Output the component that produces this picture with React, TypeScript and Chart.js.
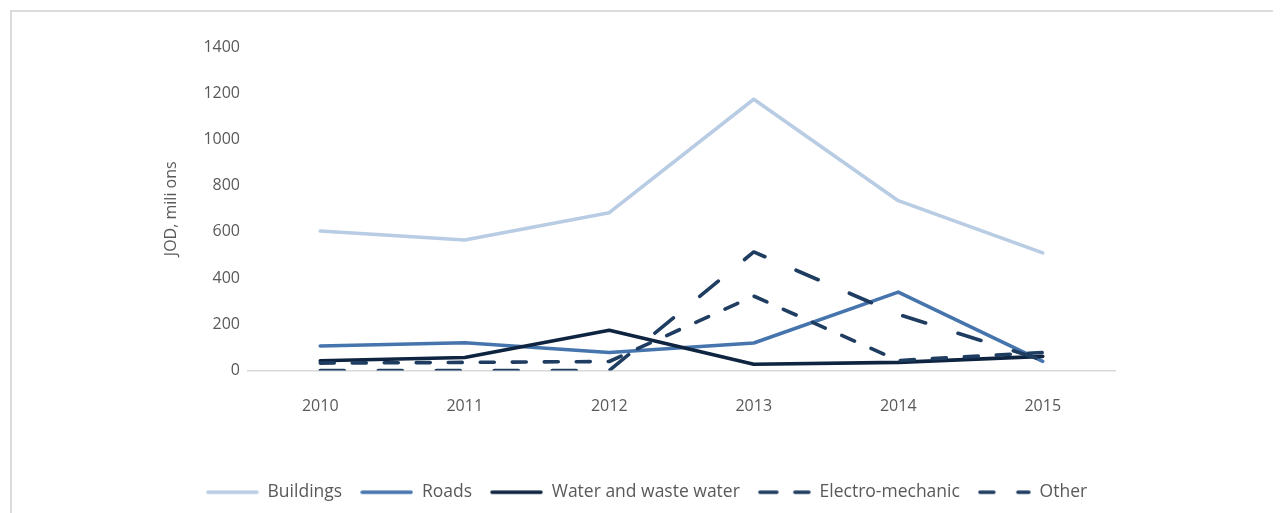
import React, { useEffect, useRef } from "react";
import { Chart, registerables } from "chart.js";

Chart.register(...registerables);

const years = ["2010", "2011", "2012", "2013", "2014", "2015"];
const buildings = [604, 565, 683, 1174, 735, 509];
const roads = [106, 120, 78, 119, 339, 40];
const water = [42, 56, 174, 27, 35, 61];
const electro = [32, 35, 39, 322, 43, 78];
const other = [0, 0, 0, 513, 243, 45];

const yTitle = "JOD, mili ons";
const FONT = '"Open Sans", sans-serif';
const TEXT = "#595959";

const SAMPLE_W = 53;

function makeSample(color: string, segments: number[][]) {
  const c = document.createElement("canvas");
  c.width = SAMPLE_W;
  c.height = 8;
  const ctx = c.getContext("2d")!;
  ctx.strokeStyle = color;
  ctx.lineWidth = 3.5;
  ctx.lineCap = "round";
  for (const [a, b] of segments) {
    ctx.beginPath();
    ctx.moveTo(a + 2, 4);
    ctx.lineTo(b - 2, 4);
    ctx.stroke();
  }
  return c;
}

export default function App() {
  const ref = useRef<HTMLCanvasElement | null>(null);

  useEffect(() => {
    document.documentElement.style.overflow = "hidden";
    const canvas = ref.current;
    if (!canvas) return;
    const common = {
      fill: false,
      pointRadius: 0,
      pointHoverRadius: 0,
      borderWidth: 3.6,
      tension: 0,
      borderCapStyle: "round" as const,
      borderJoinStyle: "round" as const,
    };
    const samples = [
      makeSample("#b8cce4", [[0, SAMPLE_W]]),
      makeSample("#4675ad", [[0, SAMPLE_W]]),
      makeSample("#0e2440", [[0, SAMPLE_W]]),
      makeSample("#1f3d60", [[0, 21], [35, SAMPLE_W]]),
      makeSample("#1f3d60", [[0, 18], [38, SAMPLE_W]]),
    ];
    const chart = new Chart(canvas, {
      type: "line",
      data: {
        labels: years,
        datasets: [
          { ...common, label: "Buildings", data: buildings, borderColor: "#b8cce4", backgroundColor: "#b8cce4", order: 5 },
          { ...common, label: "Roads", data: roads, borderColor: "#4675ad", backgroundColor: "#4675ad", order: 4 },
          { ...common, label: "Water and waste water", data: water, borderColor: "#0e2440", backgroundColor: "#0e2440", order: 3 },
          { ...common, label: "Electro-mechanic", data: electro, borderColor: "#1f3d60", backgroundColor: "#1f3d60", borderDash: [14, 18], order: 2 },
          { ...common, label: "Other", data: other, borderColor: "#1f3d60", backgroundColor: "#1f3d60", borderDash: [24, 34], order: 1 },
        ],
      },
      options: {
        animation: false,
        responsive: false,
        maintainAspectRatio: false,
        layout: { padding: { left: 170, right: 166, top: 39, bottom: 2 } },
        plugins: {
          tooltip: { enabled: false },
          legend: {
            position: "bottom",
            labels: {
              usePointStyle: true,
              pointStyleWidth: SAMPLE_W,
              padding: 18,
              color: TEXT,
              font: { family: FONT, size: 17.5 },
              generateLabels: (ch: any) =>
                Chart.defaults.plugins.legend.labels
                  .generateLabels(ch)
                  .map((l: any) => ({ ...l, pointStyle: samples[l.datasetIndex] })),
              sort: (a: any, b: any) => a.datasetIndex - b.datasetIndex,
            },
          },
        },
        scales: {
          x: {
            offset: true,
            grid: { display: false, drawTicks: false, offset: true },
            border: { display: true, color: "#d9d9d9", width: 1.5 },
            ticks: { color: TEXT, font: { family: FONT, size: 16 }, padding: 26, maxRotation: 0 },
            afterFit: (s: any) => {
              s.height = 95;
            },
          },
          y: {
            min: 0,
            max: 1400,
            grid: { display: false, drawTicks: false },
            border: { display: false },
            ticks: {
              stepSize: 200,
              color: TEXT,
              font: { family: FONT, size: 16 },
              padding: 8,
              callback: (v: any) => String(v),
            },
            title: {
              display: true,
              text: yTitle,
              color: TEXT,
              font: { family: FONT, size: 16 },
              padding: { top: -16, bottom: 0 },
            },
            afterFit: (s: any) => {
              s.width = 70;
            },
          },
        },
      },
    });
    return () => chart.destroy();
  }, []);

  return (
    <div style={{ position: "relative", width: 1273, height: 505 }}>
      <div
        style={{
          position: "absolute",
          left: 2,
          top: 2,
          width: 1271,
          height: 503,
          boxSizing: "border-box",
          borderTop: "2px solid #dcdcdc",
          borderLeft: "2px solid #dcdcdc",
        }}
      />
      <canvas ref={ref} width={1273} height={505} style={{ position: "absolute", left: 0, top: 0, width: 1273, height: 505 }} />
    </div>
  );
}
